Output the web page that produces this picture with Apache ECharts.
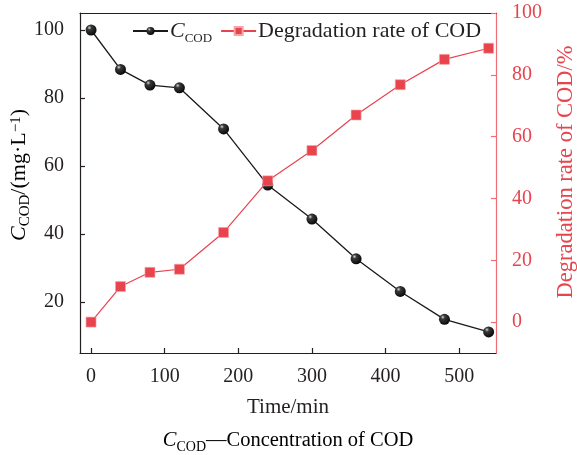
<!DOCTYPE html>
<html>
<head>
<meta charset="utf-8">
<script src="https://cdn.jsdelivr.net/npm/echarts@6/dist/echarts.min.js"></script>
<style>
  html, body { margin: 0; padding: 0; background: #fff; }
  #chart { width: 577px; height: 455px; }
</style>
</head>
<body>
<div id="chart"></div>
<script>
// Sampling times (min)
var times = [0, 40, 80, 120, 180, 240, 300, 360, 420, 480, 540];
// COD concentration (mg/L)
var codConc = [100, 88.4, 83.8, 83.0, 70.9, 54.4, 44.4, 32.7, 23.1, 14.9, 11.2];
// COD degradation rate (%)
var degradRate = [0, 11.5, 16.1, 17.1, 29.0, 45.7, 55.5, 67.0, 76.8, 85.0, 88.6];

// Tick labels
var xTicks = [0, 100, 200, 300, 400, 500];
var leftTicks = [20, 40, 60, 80, 100];
var rightTicks = [0, 20, 40, 60, 80, 100];

var FONT = '"Liberation Serif", "DejaVu Serif", serif';
var INK = '#231f20';
var RED = '#e8444e';
var RED_AXIS = '#ef6d75';

var chart = echarts.init(document.getElementById('chart'), null, { renderer: 'canvas' });

function pairs(xs, ys) {
  return xs.map(function (x, i) { return [x, ys[i]]; });
}

var sphere = new echarts.graphic.RadialGradient(0.35, 0.3, 0.75, [
  { offset: 0, color: '#d8d8d8' },
  { offset: 0.25, color: '#3a3a3a' },
  { offset: 1, color: '#050505' }
]);

// Rich text styles: italic symbol, subscript, normal text, superscript
function richSet(size, color, subScale) {
  var sub = Math.round(size * (subScale || 0.66));
  var lh = Math.round(size * 1.45);
  return {
    i: { fontFamily: FONT, fontStyle: 'italic', fontSize: size, color: color, lineHeight: lh, verticalAlign: 'middle' },
    s: { fontFamily: FONT, fontSize: sub, color: color, lineHeight: lh, verticalAlign: 'bottom', padding: [0, 0, Math.round(size * 0.1), 0] },
    n: { fontFamily: FONT, fontSize: size, color: color, lineHeight: lh, verticalAlign: 'middle' },
    p: { fontFamily: FONT, fontSize: sub, color: color, lineHeight: lh, verticalAlign: 'top', padding: [Math.round(size * 0.28), 0, 0, 0] }
  };
}

var option = {
  animation: false,
  backgroundColor: '#fff',
  grid: { left: 80, top: 13, right: 81, bottom: 102, containLabel: false },
  legend: {
    left: 127,
    top: 15,
    itemWidth: 35,
    itemHeight: 10,
    itemGap: 8,
    selectedMode: false,
    data: ['cod', 'rate'],
    formatter: function (name) {
      return name === 'cod' ? '{i|C}{s|COD}' : '{n|Degradation rate of COD}';
    },
    textStyle: { fontFamily: FONT, fontSize: 22, color: INK, padding: [0, 0, 0, -3], rich: richSet(22, INK, 0.6) }
  },
  xAxis: [{
    type: 'value',
    min: -15,
    max: 550,
    position: 'bottom',
    axisLine: { show: true, onZero: false, lineStyle: { color: INK, width: 1.2 } },
    axisTick: { show: true, inside: true, length: 5, customValues: xTicks, lineStyle: { color: INK, width: 1.2 } },
    axisLabel: { customValues: xTicks, margin: 14, fontFamily: FONT, fontSize: 20, color: INK },
    splitLine: { show: false }
  }, {
    type: 'value',
    min: -15,
    max: 550,
    position: 'top',
    axisLine: { show: true, onZero: false, lineStyle: { color: INK, width: 1.2 } },
    axisTick: { show: false },
    axisLabel: { show: false },
    splitLine: { show: false }
  }],
  yAxis: [{
    type: 'value',
    min: 5,
    max: 105,
    position: 'left',
    axisLine: { show: true, onZero: false, lineStyle: { color: INK, width: 1.2 } },
    axisTick: { show: true, inside: true, length: 5, customValues: leftTicks, lineStyle: { color: INK, width: 1.2 } },
    axisLabel: { customValues: leftTicks, margin: 16, fontFamily: FONT, fontSize: 20, color: INK },
    splitLine: { show: false }
  }, {
    type: 'value',
    min: -10,
    max: 100,
    position: 'right',
    axisLine: { show: true, onZero: false, lineStyle: { color: RED_AXIS, width: 1.2 } },
    axisTick: { show: true, inside: true, length: 5, customValues: rightTicks, lineStyle: { color: RED_AXIS, width: 1.2 } },
    axisLabel: { customValues: rightTicks, margin: 16, fontFamily: FONT, fontSize: 20, color: RED },
    splitLine: { show: false }
  }],
  series: [{
    name: 'cod',
    type: 'line',
    xAxisIndex: 0,
    yAxisIndex: 0,
    data: pairs(times, codConc),
    symbol: 'circle',
    symbolSize: 11,
    lineStyle: { color: '#1a1a1a', width: 1.3 },
    itemStyle: { color: sphere, borderWidth: 0 },
    z: 3
  }, {
    name: 'rate',
    type: 'line',
    xAxisIndex: 0,
    yAxisIndex: 1,
    data: pairs(times, degradRate),
    symbol: 'rect',
    symbolSize: 10,
    lineStyle: { color: RED, width: 1.2 },
    itemStyle: { color: RED, borderColor: '#f6a3a8', borderWidth: 0.6 },
    z: 4
  }],
  graphic: [{
    type: 'text',
    x: 288,
    y: 407,
    style: { text: 'Time/min', font: '21px ' + FONT, fill: INK, align: 'center', verticalAlign: 'middle' }
  }, {
    type: 'text',
    x: 19,
    y: 175,
    rotation: Math.PI / 2,
    style: {
      text: '{i|C}{s|COD}{n|/(mg·L}{p|−1}{n|)}',
      rich: richSet(22, INK),
      align: 'center',
      verticalAlign: 'middle'
    }
  }, {
    type: 'text',
    x: 566,
    y: 172,
    rotation: Math.PI / 2,
    style: { text: 'Degradation rate of COD/%', font: '22.5px ' + FONT, fill: RED, align: 'center', verticalAlign: 'middle' }
  }, {
    type: 'text',
    x: 288,
    y: 441,
    style: {
      text: '{i|C}{s|COD}{n|—Concentration of COD}',
      rich: richSet(20.5, INK),
      align: 'center',
      verticalAlign: 'middle'
    }
  }]
};

chart.setOption(option);
</script>
</body>
</html>
